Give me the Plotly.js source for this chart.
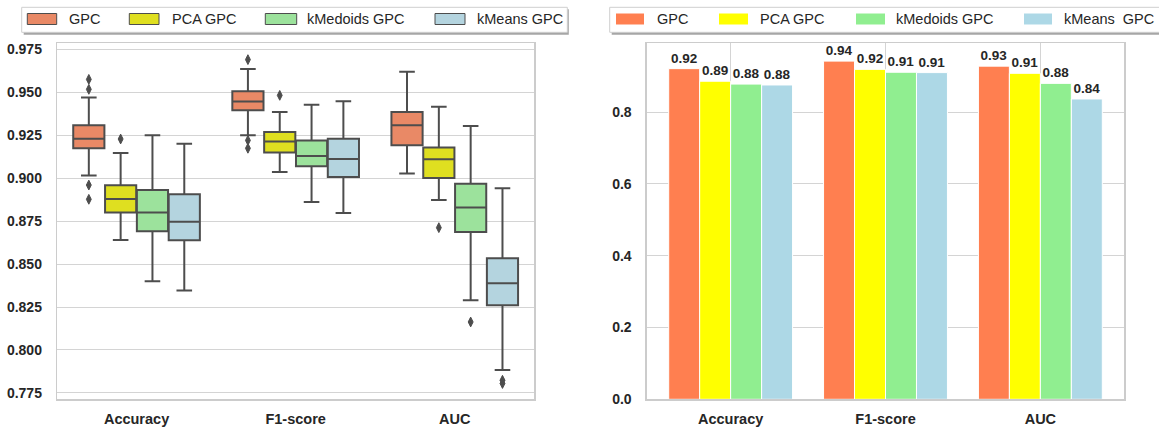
<!DOCTYPE html>
<html>
<head>
<meta charset="utf-8">
<script src="https://cdn.plot.ly/plotly-3.0.1.min.js"></script>
<style>html,body{margin:0;padding:0;background:#fff;}#chart{width:1159px;height:430px;}</style>
</head>
<body>
<div id="chart"></div>
<script>
// ---------- data ----------
const categories = ['Accuracy', 'F1-score', 'AUC'];
const models = ['GPC', 'PCA GPC', 'kMedoids GPC', 'kMeans GPC'];
const barLegendNames = ['GPC', 'PCA GPC', 'kMedoids GPC', 'kMeans\u00a0\u00a0GPC'];

// box statistics (left panel), per category
const gpcQ1 = [0.9174, 0.9395, 0.9191];
const gpcMedian = [0.9230, 0.9446, 0.9308];
const gpcQ3 = [0.9308, 0.9506, 0.9385];
const gpcLow = [0.9015, 0.9250, 0.9027];
const gpcHigh = [0.9469, 0.9636, 0.9620];
const gpcOutliers = [[0.9575, 0.9517, 0.8960, 0.8877], [0.9690, 0.9220, 0.9174], []];

const pcaQ1 = [0.8800, 0.9149, 0.9001];
const pcaMedian = [0.8879, 0.9213, 0.9110];
const pcaQ3 = [0.8959, 0.9269, 0.9178];
const pcaLow = [0.8640, 0.9036, 0.8873];
const pcaHigh = [0.9147, 0.9385, 0.9416];
const pcaOutliers = [[0.9228], [0.9482], [0.8712]];

const kmedQ1 = [0.8691, 0.9069, 0.8687];
const kmedMedian = [0.8800, 0.9129, 0.8829];
const kmedQ3 = [0.8931, 0.9219, 0.8968];
const kmedLow = [0.8400, 0.8861, 0.8290];
const kmedHigh = [0.9250, 0.9428, 0.9304];
const kmedOutliers = [[], [], [0.8163]];

const kmeansQ1 = [0.8639, 0.9007, 0.8260];
const kmeansMedian = [0.8747, 0.9112, 0.8388];
const kmeansQ3 = [0.8906, 0.9230, 0.8534];
const kmeansLow = [0.8346, 0.8798, 0.7884];
const kmeansHigh = [0.9201, 0.9447, 0.8941];
const kmeansOutliers = [[], [], [0.7824, 0.7805]];

// mean scores (right panel)
const gpcMean = [0.921, 0.942, 0.928];
const pcaMean = [0.886, 0.919, 0.908];
const kmedMean = [0.878, 0.911, 0.880];
const kmeansMean = [0.8755, 0.910, 0.8365];

const leftTicks = [0.775, 0.800, 0.825, 0.850, 0.875, 0.900, 0.925, 0.950, 0.975];
const rightTicks = [0.0, 0.2, 0.4, 0.6, 0.8];

// ---------- styles ----------
const boxColors = ['#E98966', '#DFDF20', '#9CE29C', '#B4D4DF'];
const barColors = ['#FF7F50', '#FFFF00', '#90EE90', '#ADD8E6'];
const lineGray = '#4d4d4d';
const gridGray = '#d4d4d4';
const textDark = '#262626';
const FONT = '"Liberation Sans", Arial, sans-serif';

const boxStats = [
  [gpcQ1, gpcMedian, gpcQ3, gpcLow, gpcHigh, gpcOutliers],
  [pcaQ1, pcaMedian, pcaQ3, pcaLow, pcaHigh, pcaOutliers],
  [kmedQ1, kmedMedian, kmedQ3, kmedLow, kmedHigh, kmedOutliers],
  [kmeansQ1, kmeansMedian, kmeansQ3, kmeansLow, kmeansHigh, kmeansOutliers]
];
const means = [gpcMean, pcaMean, kmedMean, kmeansMean];

const hueWidth = 0.2;
const traces = [];
boxStats.forEach((s, h) => {
  const pos = categories.map((c, i) => i + (h - 1.5) * hueWidth);
  traces.push({
    type: 'box', name: models[h], xaxis: 'x', yaxis: 'y', showlegend: false,
    x: pos, q1: s[0], median: s[1], q3: s[2], lowerfence: s[3], upperfence: s[4],
    width: hueWidth * 0.98, whiskerwidth: 0.5,
    fillcolor: boxColors[h], line: {color: lineGray, width: 2},
    hoverinfo: 'skip'
  });
  const ox = [], oy = [];
  s[5].forEach((arr, i) => arr.forEach(v => { ox.push(pos[i]); oy.push(v); }));
  if (ox.length) traces.push({
    type: 'scatter', mode: 'markers', xaxis: 'x', yaxis: 'y', showlegend: false,
    x: ox, y: oy,
    marker: {symbol: 'diamond-tall', size: 7, color: lineGray, line: {color: lineGray, width: 1}},
    hoverinfo: 'skip'
  });
});
means.forEach((m, h) => {
  traces.push({
    type: 'bar', name: models[h], xaxis: 'x2', yaxis: 'y2', showlegend: false,
    x: categories, y: m, offsetgroup: String(h),
    marker: {color: barColors[h], line: {color: '#ffffff', width: 1}},
    texttemplate: '%{y:.2f}', textposition: 'outside', cliponaxis: false,
    constraintext: 'none',
    textfont: {family: FONT, size: 13.5, color: textDark, weight: 'bold'},
    hoverinfo: 'skip'
  });
});

// ---------- pixel helpers for layout decorations ----------
const W = 1159, H = 430;
const px = x => x / W, py = y => 1 - y / H;

const shapes = [];
const annotations = [];
function legendBox(x0, x1, y0, y1) {
  shapes.push({type: 'rect', xref: 'paper', yref: 'paper', x0: px(x0 + 2), x1: px(x1 + 1.5), y0: py(y1 + 2.5), y1: py(y0 + 2),
    fillcolor: '#a6a6a6', line: {width: 0}, layer: 'above'});
  shapes.push({type: 'rect', xref: 'paper', yref: 'paper', x0: px(x0), x1: px(x1), y0: py(y1), y1: py(y0),
    fillcolor: '#ffffff', line: {color: '#cfcfcf', width: 1}, layer: 'above'});
}
function legendItem(names, colors, patchX, textX, border) {
  names.forEach((n, i) => {
    shapes.push({type: 'rect', xref: 'paper', yref: 'paper',
      x0: px(patchX[i][0]), x1: px(patchX[i][1]), y0: py(24.5), y1: py(13.5),
      fillcolor: colors[i], line: border ? {color: lineGray, width: 1} : {width: 0}, layer: 'above'});
    annotations.push({xref: 'paper', yref: 'paper', x: px(textX[i] - 2), y: py(19),
      xanchor: 'left', yanchor: 'middle', showarrow: false, text: n,
      font: {family: FONT, size: 14.5, color: textDark}});
  });
}
legendBox(21.7, 567.3, 7.3, 32.3);
legendItem(models, boxColors, [[27.3, 56.7], [129.3, 159], [265.3, 296.7], [435, 465]], [69.3, 171.7, 307.3, 477.3], true);
legendBox(609.7, 1175, 7.3, 32.3);
legendItem(barLegendNames, barColors, [[616, 644], [719, 748], [856, 885], [1024, 1052]], [657.2, 760, 895.7, 1064.3], false);

const tickFont = {family: FONT, size: 14, color: textDark, weight: 'bold'};
const catFont = {family: FONT, size: 14.5, color: textDark, weight: 'bold'};
const frame = {showline: true, mirror: true, linecolor: '#cccccc', linewidth: 1.25, zeroline: false, ticks: ''};

const layout = {
  width: W, height: H,
  margin: {l: 0, r: 0, t: 0, b: 0, pad: 0},
  paper_bgcolor: '#ffffff', plot_bgcolor: '#ffffff',
  showlegend: false,
  font: {family: FONT, color: textDark},
  boxmode: 'overlay',
  barmode: 'group', bargap: 0.2, bargroupgap: 0,
  xaxis: Object.assign({}, frame, {domain: [px(57), px(534.3)], range: [-0.5, 2.5], tickmode: 'array',
    tickvals: categories.map((c, i) => i), ticktext: categories, showgrid: false,
    tickfont: catFont, ticklabelstandoff: 6, automargin: false, anchor: 'y'}),
  yaxis: Object.assign({}, frame, {domain: [1 - 399.3 / H, 1 - 43.3 / H], range: [0.7713, 0.9785], tickmode: 'array',
    tickvals: leftTicks, tickformat: '.3f', showgrid: true, gridcolor: gridGray, gridwidth: 1,
    tickfont: tickFont, ticklabelstandoff: 11, automargin: false, anchor: 'x'}),
  xaxis2: Object.assign({}, frame, {domain: [px(646.7), px(1124.3)], type: 'category', range: [-0.542, 2.542],
    showgrid: true, gridcolor: gridGray, gridwidth: 1,
    tickfont: catFont, ticklabelstandoff: 6, automargin: false, anchor: 'y2'}),
  yaxis2: Object.assign({}, frame, {domain: [1 - 399.3 / H, 1 - 43.3 / H], range: [0, 0.9916], tickmode: 'array',
    tickvals: rightTicks, tickformat: '.1f', showgrid: true, gridcolor: gridGray, gridwidth: 1,
    tickfont: tickFont, ticklabelstandoff: 11, automargin: false, anchor: 'x2'}),
  shapes: shapes,
  annotations: annotations
};

Plotly.newPlot('chart', traces, layout, {staticPlot: true, displayModeBar: false});
</script>
</body>
</html>
